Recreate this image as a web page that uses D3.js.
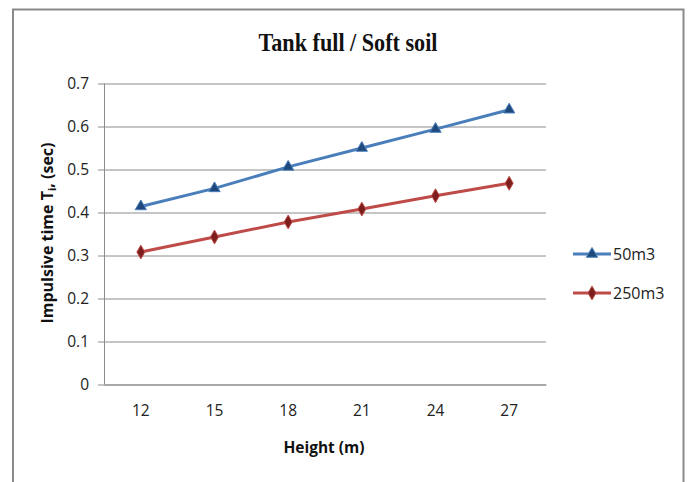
<!DOCTYPE html>
<html>
<head>
<meta charset="utf-8">
<script src="https://cdn.jsdelivr.net/npm/d3@7"></script>
<style>
  body { margin: 0; background: #fff; }
  svg { display: block; }
</style>
</head>
<body>
<svg width="690" height="482"></svg>
<script>
var heights = [12, 15, 18, 21, 24, 27];
var tank50 = [0.414, 0.456, 0.506, 0.550, 0.594, 0.639];
var tank250 = [0.308, 0.343, 0.378, 0.408, 0.439, 0.468];
var yTicks = [0, 0.1, 0.2, 0.3, 0.4, 0.5, 0.6, 0.7];

var series = [
    { name: "50m3", values: tank50, color: "#4a7ebb", marker: "#1f497d", shape: d3.symbolTriangle },
    { name: "250m3", values: tank250, color: "#be4b48", marker: "#7b1e1c", shape: d3.symbolDiamond }
];

var margin = { left: 104, right: 144, top: 83.5, bottom: 97.5 };
var width = 690 - margin.left - margin.right;
var height = 482 - margin.top - margin.bottom;

var font = "'Open Sans', 'Liberation Sans', sans-serif";

var svg = d3.select("svg");

// outer chart border
svg.append("rect")
    .attr("x", 13).attr("y", 9.5)
    .attr("width", 670.5).attr("height", 490)
    .attr("fill", "none")
    .attr("stroke", "#8a8a8a")
    .attr("stroke-width", 2);

svg.append("text")
    .attr("x", 348).attr("y", 51)
    .attr("text-anchor", "middle")
    .style("font-family", "'Liberation Serif', 'Times New Roman', serif")
    .style("font-weight", "bold")
    .style("font-size", "25px")
    .attr("textLength", 179)
    .attr("lengthAdjust", "spacingAndGlyphs")
    .attr("fill", "#111")
    .text("Tank full / Soft soil");

var g = svg.append("g")
    .attr("transform", "translate(" + margin.left + "," + margin.top + ")");

var x = d3.scaleBand()
    .domain(heights)
    .range([0, width]);

var y = d3.scaleLinear()
    .domain([0, 0.7])
    .range([height, 0]);

// grid
g.append("g")
    .selectAll("line")
    .data(yTicks)
    .enter().append("line")
    .attr("x1", 0).attr("x2", width)
    .attr("y1", function (d) { return Math.round(y(d)) + 0.5; })
    .attr("y2", function (d) { return Math.round(y(d)) + 0.5; })
    .attr("stroke", "#8c8c8c")
    .attr("stroke-width", 1);

// y axis
var yAxis = g.append("g")
    .call(d3.axisLeft(y).tickValues(yTicks).tickSize(6).tickPadding(9)
        .tickFormat(function (d) { return d === 0 ? "0" : d3.format(".1f")(d); }));
yAxis.select(".domain").attr("stroke", "#8c8c8c").attr("d", "M0.5," + height + "V0");
yAxis.selectAll(".tick line").attr("stroke", "#8c8c8c");
yAxis.selectAll(".tick text")
    .style("font-family", font)
    .style("font-size", "15.5px")
    .attr("fill", "#222");

// x axis
var xAxis = g.append("g")
    .attr("transform", "translate(0," + height + ")")
    .call(d3.axisBottom(x).tickSize(0).tickPadding(20));
xAxis.select(".domain").attr("stroke", "#8c8c8c");
xAxis.selectAll(".tick text")
    .style("font-family", font)
    .style("font-size", "15.5px")
    .attr("fill", "#222");

// axis titles
svg.append("text")
    .attr("x", 324).attr("y", 453)
    .attr("text-anchor", "middle")
    .style("font-family", font)
    .style("font-weight", "bold")
    .style("font-size", "15.5px")
    .attr("fill", "#111")
    .text("Height (m)");

var yTitle = svg.append("text")
    .attr("transform", "translate(53,233) rotate(-90)")
    .attr("text-anchor", "middle")
    .style("font-family", font)
    .style("font-weight", "bold")
    .style("font-size", "16px")
    .attr("fill", "#111");
yTitle.append("tspan").text("Impulsive time T");
yTitle.append("tspan").attr("dy", 3).style("font-size", "11px").text("i");
yTitle.append("tspan").attr("dy", -3).text(", (sec)");

var line = d3.line()
    .x(function (d, i) { return x(heights[i]) + x.bandwidth() / 2; })
    .y(function (d) { return y(d); });

series.forEach(function (s) {
    g.append("path")
        .datum(s.values)
        .attr("fill", "none")
        .attr("stroke", s.color)
        .attr("stroke-width", 3)
        .attr("d", line);

    g.append("g")
        .selectAll("path")
        .data(s.values)
        .enter().append("path")
        .attr("transform", function (d, i) {
            return "translate(" + (x(heights[i]) + x.bandwidth() / 2) + "," + y(d) + ")";
        })
        .attr("d", d3.symbol().type(s.shape).size(55))
        .attr("fill", s.marker)
        .attr("stroke", s.color)
        .attr("stroke-width", 1);
});

// legend
var legend = svg.append("g");
series.forEach(function (s, i) {
    var ly = 254 + i * 39;
    legend.append("line")
        .attr("x1", 573).attr("x2", 611)
        .attr("y1", ly).attr("y2", ly)
        .attr("stroke", s.color)
        .attr("stroke-width", 3);
    legend.append("path")
        .attr("transform", "translate(592," + ly + ")")
        .attr("d", d3.symbol().type(s.shape).size(55))
        .attr("fill", s.marker)
        .attr("stroke", s.color)
        .attr("stroke-width", 1);
    legend.append("text")
        .attr("x", 613).attr("y", ly + 5.5)
        .style("font-family", font)
        .style("font-size", "16px")
        .attr("fill", "#222")
        .text(s.name);
});
</script>
</body>
</html>
